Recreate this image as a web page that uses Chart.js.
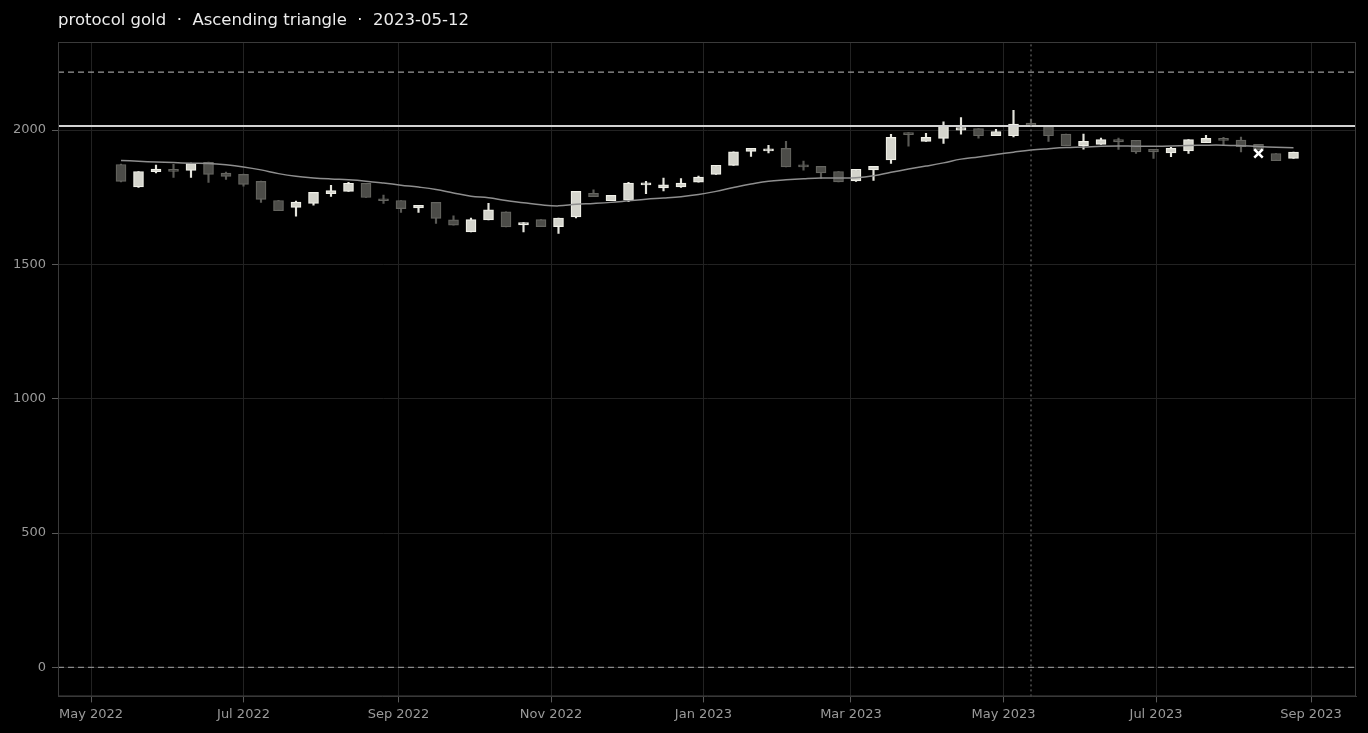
<!DOCTYPE html>
<html>
<head>
<meta charset="utf-8">
<title>protocol gold</title>
<script src="https://cdn.jsdelivr.net/npm/chart.js@4.4.1/dist/chart.umd.min.js"></script>
<style>
  html, body { margin: 0; padding: 0; background: #000; }
  canvas { display: block; }
</style>
</head>
<body>
<canvas id="patternChart" width="1368" height="733"></canvas>
<script>
const titleText = 'protocol gold  ·  Ascending triangle  ·  2023-05-12';

const weeks = [
  '2022-05-13', '2022-05-20', '2022-05-27', '2022-06-03', '2022-06-10', '2022-06-17', '2022-06-24',
  '2022-07-01', '2022-07-08', '2022-07-15', '2022-07-22', '2022-07-29', '2022-08-05', '2022-08-12',
  '2022-08-19', '2022-08-26', '2022-09-02', '2022-09-09', '2022-09-16', '2022-09-23', '2022-09-30',
  '2022-10-07', '2022-10-14', '2022-10-21', '2022-10-28', '2022-11-04', '2022-11-11', '2022-11-18',
  '2022-11-25', '2022-12-02', '2022-12-09', '2022-12-16', '2022-12-23', '2022-12-30', '2023-01-06',
  '2023-01-13', '2023-01-20', '2023-01-27', '2023-02-03', '2023-02-10', '2023-02-17', '2023-02-24',
  '2023-03-03', '2023-03-10', '2023-03-17', '2023-03-24', '2023-03-31', '2023-04-07', '2023-04-14',
  '2023-04-21', '2023-04-28', '2023-05-05', '2023-05-12', '2023-05-19', '2023-05-26', '2023-06-02',
  '2023-06-09', '2023-06-16', '2023-06-23', '2023-06-30', '2023-07-07', '2023-07-14', '2023-07-21',
  '2023-07-28', '2023-08-04', '2023-08-11', '2023-08-18', '2023-08-25'
];

const opens = [
  1872, 1789, 1845, 1854, 1850, 1880, 1840, 1835, 1809, 1738, 1712, 1727, 1763, 1772, 1802, 1744, 1738,
  1710, 1731, 1666, 1621, 1666, 1696, 1647, 1667, 1641, 1677, 1765, 1737, 1739, 1796, 1785, 1789, 1806,
  1835, 1869, 1921, 1923, 1932, 1870, 1865, 1846, 1811, 1852, 1889, 1991, 1958, 1969, 2000, 2006, 1979,
  1979, 2026, 2014, 1985, 1942, 1947, 1965, 1962, 1928, 1915, 1923, 1953, 1969, 1963, 1947, 1913, 1895
];
const highs = [
  1874, 1846, 1870, 1873, 1877, 1881, 1844, 1836, 1810, 1739, 1736, 1768, 1794, 1806, 1802, 1758, 1738,
  1720, 1731, 1681, 1673, 1727, 1696, 1656, 1667, 1673, 1772, 1778, 1757, 1806, 1809, 1821, 1820, 1829,
  1869, 1919, 1932, 1943, 1958, 1885, 1865, 1846, 1854, 1865, 1984, 1991, 1988, 2031, 2047, 2006, 2003,
  2074, 2041, 2014, 1985, 1985, 1970, 1970, 1962, 1928, 1936, 1965, 1981, 1973, 1974, 1947, 1913, 1918
];
const lows = [
  1807, 1787, 1841, 1824, 1824, 1805, 1816, 1791, 1731, 1700, 1680, 1721, 1753, 1772, 1749, 1727, 1694,
  1694, 1653, 1646, 1621, 1666, 1640, 1621, 1641, 1615, 1673, 1752, 1737, 1734, 1763, 1774, 1787, 1806,
  1835, 1869, 1902, 1915, 1863, 1851, 1820, 1807, 1809, 1813, 1876, 1940, 1958, 1950, 1985, 1970, 1979,
  1975, 2016, 1958, 1942, 1929, 1947, 1928, 1913, 1895, 1901, 1913, 1953, 1944, 1919, 1926, 1886, 1895
];
const closes = [
  1809, 1846, 1855, 1846, 1876, 1835, 1828, 1798, 1742, 1700, 1732, 1768, 1775, 1802, 1749, 1737, 1708,
  1720, 1671, 1646, 1667, 1703, 1640, 1656, 1641, 1673, 1772, 1752, 1757, 1803, 1804, 1796, 1803, 1825,
  1869, 1919, 1932, 1930, 1863, 1863, 1841, 1807, 1854, 1865, 1973, 1983, 1973, 2017, 2009, 1979, 1995,
  2022, 2016, 1979, 1942, 1958, 1965, 1956, 1919, 1919, 1932, 1965, 1969, 1962, 1938, 1926, 1886, 1918
];
const movingAvg = [
  1887, 1884, 1881, 1879, 1877, 1876, 1871, 1863, 1852, 1838, 1828, 1822, 1818, 1815, 1810, 1803, 1795,
  1788, 1779, 1766, 1754, 1748, 1738, 1730, 1722, 1718, 1724, 1727, 1731, 1737, 1743, 1747, 1752, 1760,
  1772, 1786, 1799, 1810, 1815, 1819, 1822, 1822, 1823, 1830, 1843, 1855, 1866, 1878, 1892, 1900, 1909,
  1918, 1926, 1931, 1935, 1937, 1940, 1941, 1940, 1940, 1941, 1943, 1944, 1944, 1942, 1939, 1936, 1934
];

const resistance = 2015;
const targetUpper = 2216;
const targetLower = 0;
const signalDate = '2023-05-12';
const markerDate = '2023-08-11';
const markerValue = 1913;

const tickDates = ['2022-05-01', '2022-07-01', '2022-09-01', '2022-11-01', '2023-01-01',
  '2023-03-01', '2023-05-01', '2023-07-01', '2023-09-01'];
const tickLabels = ['May 2022', 'Jul 2022', 'Sep 2022', 'Nov 2022', 'Jan 2023',
  'Mar 2023', 'May 2023', 'Jul 2023', 'Sep 2023'];
const yTicks = [0, 500, 1000, 1500, 2000];

const xMin = Date.parse('2022-04-17T19:12:00Z');
const xMax = Date.parse('2023-09-19T00:00:00Z');
const yMin = -108;
const yMax = 2328;

Chart.defaults.font.family = "'DejaVu Sans', sans-serif";
Chart.defaults.color = '#9a9a9a';

const times = weeks.map(d => Date.parse(d));
const isUp = opens.map((o, i) => closes[i] >= o);

// top and right edges of the plot frame
const frame = {
  id: 'frame',
  afterDraw(chart) {
    const { ctx, chartArea: a } = chart;
    ctx.save();
    ctx.strokeStyle = '#3a3a3a';
    ctx.lineWidth = 1;
    ctx.strokeRect(a.left + 0.5, a.top + 0.5, a.width - 1, a.height - 1);
    ctx.restore();
  }
};

const hLine = (value, color, width, dash, order) => ({
  type: 'line',
  data: [{ x: xMin, y: value }, { x: xMax, y: value }],
  borderColor: color,
  borderWidth: width,
  borderDash: dash,
  pointRadius: 0,
  order
});

const ctx = document.getElementById('patternChart').getContext('2d');
new Chart(ctx, {
  type: 'line',
  data: {
    datasets: [
      {
        type: 'line',
        data: times.map((t, i) => ({ x: t, y: movingAvg[i] })),
        borderColor: '#8e8e8e',
        borderWidth: 1.5,
        pointRadius: 0,
        tension: 0.4,
        order: 4
      },
      {
        type: 'bar',
        data: times.map((t, i) => ({ x: t, y: [lows[i], highs[i]] })),
        backgroundColor: isUp.map(u => u ? '#e4e4dc' : '#595955'),
        barThickness: 1.5,
        grouped: false,
        order: 6
      },
      {
        type: 'bar',
        data: times.map((t, i) => ({ x: t, y: [opens[i], closes[i]] })),
        backgroundColor: isUp.map(u => u ? '#d4d4cc' : '#4c4c48'),
        borderColor: isUp.map(u => u ? '#f0f0e8' : '#656560'),
        borderWidth: 1.2,
        borderSkipped: false,
        barThickness: 10,
        minBarLength: 2,
        grouped: false,
        order: 5
      },
      hLine(resistance, '#d2d2d2', 2, [], 3),
      hLine(targetUpper, '#9a9a9a', 1.3, [6, 4], 3),
      hLine(targetLower, '#8a8a8a', 1.3, [6, 4], 3),
      {
        type: 'line',
        data: [{ x: Date.parse(signalDate), y: yMin }, { x: Date.parse(signalDate), y: yMax }],
        borderColor: '#7a7a7a',
        borderWidth: 1,
        borderDash: [2, 3],
        pointRadius: 0,
        order: 2
      },
      {
        type: 'scatter',
        data: [{ x: Date.parse(markerDate), y: markerValue }],
        pointStyle: 'crossRot',
        pointRadius: 6,
        borderColor: '#ffffff',
        borderWidth: 2.5,
        order: 1
      }
    ]
  },
  options: {
    responsive: false,
    animation: false,
    layout: { padding: { left: 0, right: 12, top: 0, bottom: 7 } },
    plugins: {
      legend: { display: false },
      tooltip: { enabled: false },
      title: {
        display: true,
        text: titleText,
        align: 'start',
        fullSize: false,
        color: '#ececec',
        font: { size: 16.5, weight: 'normal' },
        padding: { top: 11, bottom: 11.2 }
      }
    },
    scales: {
      x: {
        type: 'linear',
        min: xMin,
        max: xMax,
        offset: false,
        afterBuildTicks: axis => { axis.ticks = tickDates.map(d => ({ value: Date.parse(d) })); },
        ticks: {
          autoSkip: false,
          maxRotation: 0,
          padding: 4,
          font: { size: 13 },
          callback: (value, index) => tickLabels[index]
        },
        grid: { color: '#222222', tickColor: '#5a5a5a', tickLength: 6, offset: false },
        border: { color: '#3a3a3a' }
      },
      y: {
        type: 'linear',
        min: yMin,
        max: yMax,
        afterBuildTicks: axis => { axis.ticks = yTicks.map(v => ({ value: v })); },
        afterFit: axis => { axis.width = 58; },
        ticks: {
          padding: 6,
          font: { size: 13 },
          callback: value => String(value)
        },
        grid: { color: '#222222', tickColor: '#5a5a5a', tickLength: 6 },
        border: { color: '#3a3a3a' }
      }
    }
  },
  plugins: [frame]
});
</script>
</body>
</html>
